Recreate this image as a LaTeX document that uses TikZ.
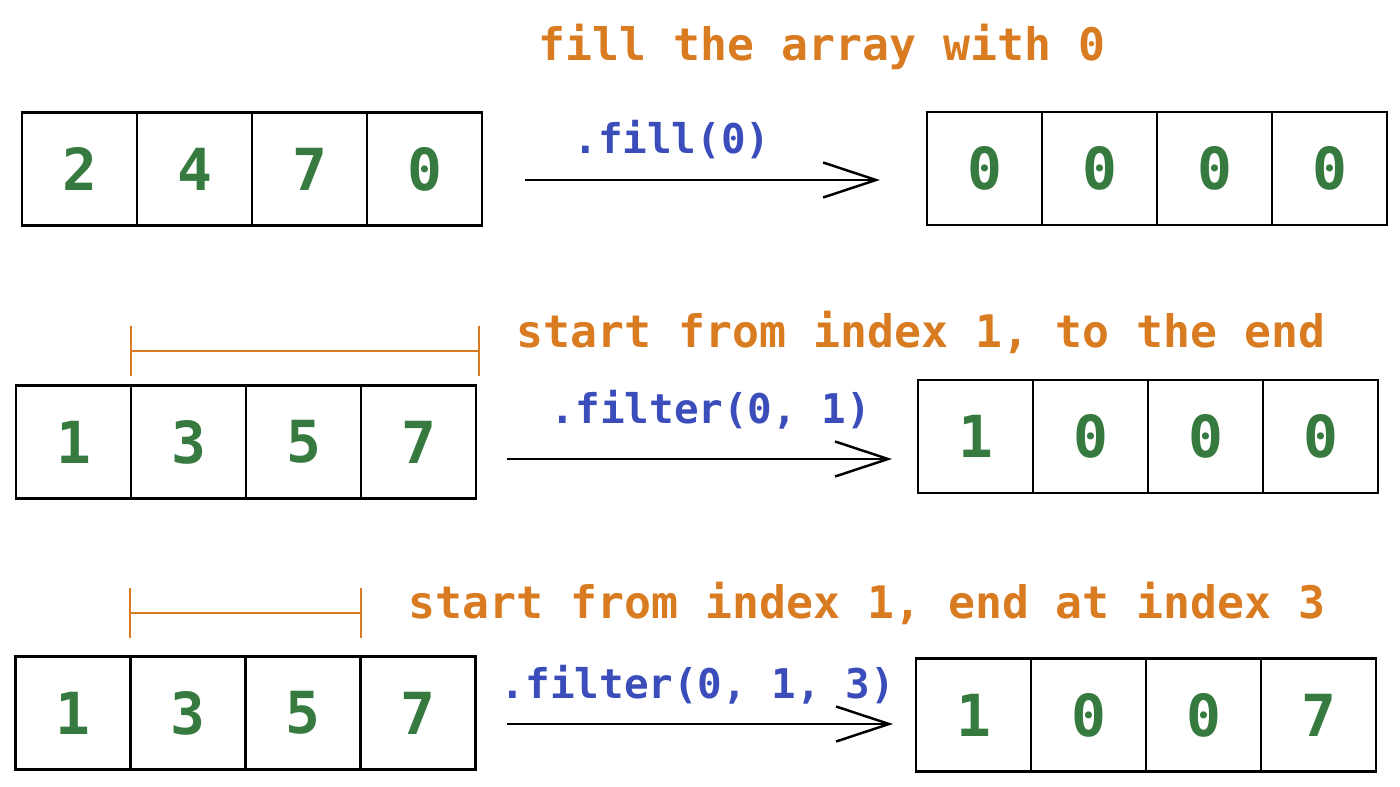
\documentclass[tikz,border=0pt]{standalone}
\usepackage{fontspec}
\setmonofont{DejaVu Sans Mono}
\usetikzlibrary{arrows.meta}
\definecolor{titleorange}{HTML}{D97B20}
\definecolor{callblue}{HTML}{3A4DBA}
\definecolor{digitgreen}{HTML}{367A40}
\begin{document}
\begin{tikzpicture}
  [x = .02cm, y = -.02cm, line width = 1.4pt,
   cell/.style = {draw, minimum width = 2.3cm, minimum height = 2.26cm,
     inner sep = 0pt, text = digitgreen,
     font = \ttfamily\bfseries\fontsize{33}{33}\selectfont},
   title/.style = {text = titleorange, inner sep = 0pt,
     font = \ttfamily\bfseries\fontsize{25.5}{26}\selectfont},
   call/.style = {text = callblue, inner sep = 0pt,
     font = \ttfamily\bfseries\fontsize{23.3}{24}\selectfont},
   arr/.style = {-{Straight Barb[length = 1.06cm, width = .7cm]}},
   span/.style = {draw = titleorange, line width = 1pt,
     {Bar[width = 1cm]}-{Bar[width = 1cm]}}]
  \useasboundingbox (0,0) rectangle (1400,787);

  % fill
  \node[title] (t1) at (822,47) {fill the array with 0};
  \foreach \v [count = \i] in {2,4,7,0}
    \node[cell] (in1-\i) at (-35.5+115*\i, 169) {\v};
  \foreach \v [count = \i] in {0,0,0,0}
    \node[cell] (out1-\i) at (869.5+115*\i, 168.5) {\v};
  \coordinate (s1) at (525,180);
  \coordinate (e1) at (880,180);
  \draw[arr] (s1) -- (e1);
  \node[call] (c1) at (672,140) {.fill(0)};

  % start only
  \node[title, anchor = east] (t2) at (1327,332) {start from index 1, to the end};
  \foreach \v [count = \i] in {1,3,5,7}
    \node[cell] (in2-\i) at (-41.5+115*\i, 442) {\v};
  \foreach \v [count = \i] in {1,0,0,0}
    \node[cell] (out2-\i) at (860.5+115*\i, 436.5) {\v};
  \draw[span] ([yshift = .67cm]in2-2.north west) -- ([xshift = .06cm, yshift = .67cm]in2-4.north east);
  \coordinate (s2) at (507,459);
  \coordinate (e2) at (892,459);
  \draw[arr] (s2) -- (e2);
  \node[call] (c2) at (711,410) {.filter(0, 1)};

  % start and end
  \node[title, anchor = east] (t3) at (1327,603) {start from index 1, end at index 3};
  \foreach \v [count = \i] in {1,3,5,7}
    \node[cell] (in3-\i) at (-41.8+115*\i, 713) {\v};
  \foreach \v [count = \i] in {1,0,0,7}
    \node[cell] (out3-\i) at (858.5+115*\i, 715) {\v};
  \draw[span] ([yshift = .84cm]in3-2.north west) -- ([yshift = .84cm]in3-3.north east);
  \coordinate (s3) at (507,724);
  \coordinate (e3) at (893,724);
  \draw[arr] (s3) -- (e3);
  \node[call] (c3) at (698,685) {.filter(0, 1, 3)};
\end{tikzpicture}
\end{document}
